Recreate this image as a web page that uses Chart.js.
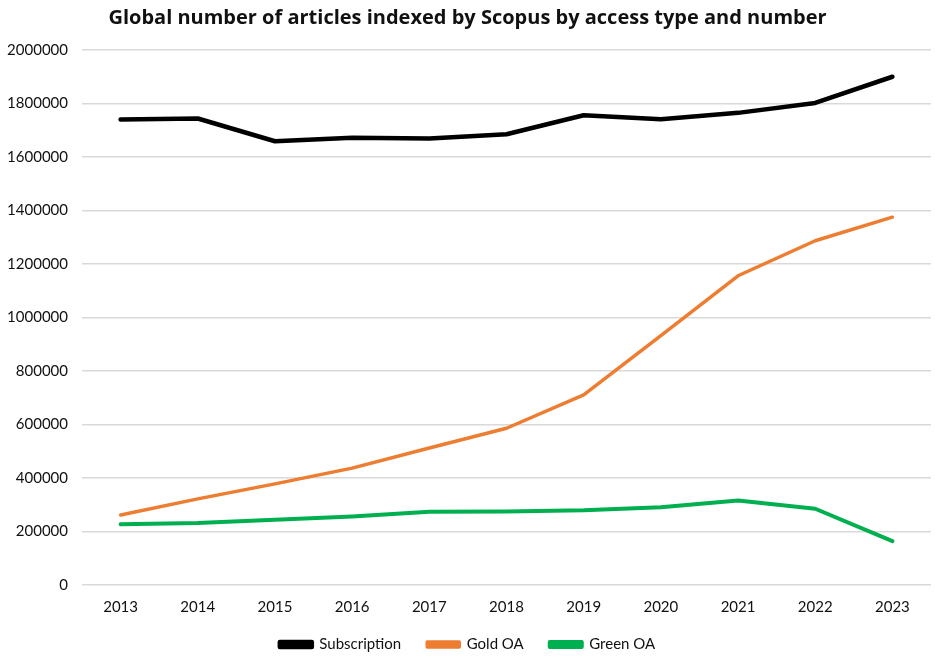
<!DOCTYPE html>
<html>
<head>
<meta charset="utf-8">
<script src="https://cdn.jsdelivr.net/npm/chart.js@4.4.1/dist/chart.umd.min.js"></script>
<style>
  html, body { margin: 0; padding: 0; background: #ffffff; }
  #wrap { width: 935px; height: 658px; }
</style>
</head>
<body>
<div id="wrap"><canvas id="chart1"></canvas></div>
<script>
// Data
const years = ['2013', '2014', '2015', '2016', '2017', '2018', '2019', '2020', '2021', '2022', '2023'];
const subscription = [1740000, 1744000, 1659000, 1672000, 1669000, 1685000, 1756000, 1741000, 1765000, 1802000, 1900000];
const goldOA = [262000, 322000, 378000, 437000, 512000, 586000, 711000, 932000, 1156000, 1287000, 1375000];
const greenOA = [227000, 232000, 244000, 256000, 274000, 275000, 279000, 291000, 316000, 285000, 164000];

const textColor = '#111111';
const gridColor = '#d9d9d9';
const fontFamily = 'Lato, "Open Sans", sans-serif';

function makeLine(label, data, color, width) {
  return {
    label: label,
    data: data,
    borderColor: color,
    backgroundColor: color,
    borderWidth: width,
    pointRadius: 0,
    tension: 0,
    borderCapStyle: 'round',
    borderJoinStyle: 'round',
  };
}

// Keep the legend's wide horizontal gaps but a tighter box height,
// and nudge it up a little after layout
const legendHeightFix = {
  id: 'legendHeightFix',
  beforeUpdate(chart) {
    const legend = chart.legend;
    if (!legend || legend._fitPatched) return;
    const origFit = legend.fit;
    legend.fit = function () {
      origFit.call(this);
      this.height = 42;
    };
    legend._fitPatched = true;
  },
  afterLayout(chart) {
    if (!chart.legend) return;
    chart.legend.top -= 5;
    chart.legend.bottom -= 5;
  },
};

const ctx = document.getElementById('chart1').getContext('2d');
const chart1 = new Chart(ctx, {
  type: 'line',
  data: {
    labels: years,
    datasets: [
      makeLine('Subscription', subscription, '#000000', 4.5),
      makeLine('Gold OA', goldOA, '#ED7D31', 3.5),
      makeLine('Green OA', greenOA, '#00B050', 4),
    ],
  },
  options: {
    responsive: true,
    maintainAspectRatio: false,
    animation: false,
    layout: {
      padding: { left: 4, right: 4, top: 4, bottom: 0 },
    },
    scales: {
      x: {
        offset: true,
        grid: { display: false, drawTicks: false },
        border: { display: false },
        afterFit: function (scale) {
          scale.height = 31;
        },
        ticks: {
          color: textColor,
          font: { family: fontFamily, size: 15 },
          padding: 13,
        },
      },
      y: {
        min: 0,
        max: 2000000,
        grid: { color: gridColor, lineWidth: 1.5, drawTicks: false },
        border: { display: false },
        afterFit: function (scale) {
          scale.width = 78;
        },
        ticks: {
          stepSize: 200000,
          color: textColor,
          font: { family: fontFamily, size: 15 },
          padding: 14,
          callback: function (value) {
            return String(value);
          },
        },
      },
    },
    plugins: {
      title: {
        display: true,
        text: 'Global number of articles indexed by Scopus by access type and number',
        color: textColor,
        font: { family: '"Open Sans", Lato, sans-serif', size: 20, weight: 'bold' },
        padding: { top: 2, bottom: 20 },
      },
      legend: {
        display: true,
        position: 'bottom',
        labels: {
          color: textColor,
          font: { family: fontFamily, size: 15 },
          boxWidth: 32,
          boxHeight: 5,
          padding: 26,
        },
      },
      tooltip: { enabled: false },
    },
  },
  plugins: [legendHeightFix],
});
</script>
</body>
</html>
